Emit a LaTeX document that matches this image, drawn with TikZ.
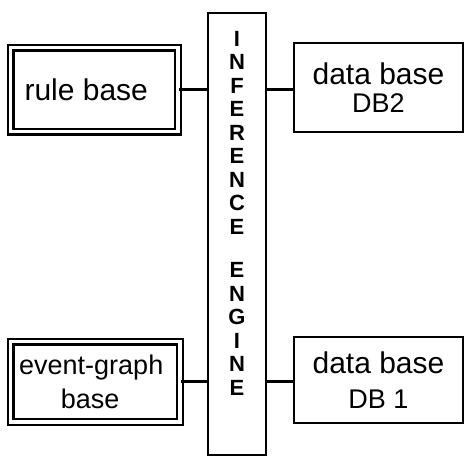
\documentclass[tikz,border=0pt]{standalone}
\usepackage{fontspec}
\setmainfont{Liberation Sans}
\begin{document}
\begin{tikzpicture}[x=1pt,y=-1pt,
  box/.style={draw,line width=2.6pt,rectangle,inner sep=0pt},
  dbox/.style={draw,line width=2.2pt,double,double distance=3.6pt,rectangle,inner sep=0pt},
  conn/.style={line width=2.6pt},
  big/.style={font=\fontsize{30}{35}\selectfont},
  mid/.style={font=\fontsize{27}{35}\selectfont}]
\useasboundingbox (0,0) rectangle (464,459);
% inference engine
\node[box,minimum width=58pt,minimum height=442pt] (ie) at (237,234) {};
\node[inner sep=0pt,anchor=north,align=center,font=\bfseries\fontsize{22}{23.5}\selectfont] (ietext) at (237,31)
  {I\\N\\F\\E\\R\\E\\N\\C\\E\\[20pt]E\\N\\G\\I\\N\\E};
% rule base
\node[dbox,minimum width=167.5pt,minimum height=84pt,big] (rb) at (94.25,89.5) {\hspace*{-16pt}rule base};
% event graph base
\node[dbox,minimum width=169.5pt,minimum height=80.5pt,align=center,mid] (eg) at (95.25,381.75) {\hspace*{-8pt}event-graph\\[-1pt]\hspace*{-10pt}base};
% data bases
\node[box,minimum width=169pt,minimum height=89pt,align=center,font=\fontsize{30}{28}\selectfont] (db2) at (378.5,87.5) {data base\\{\fontsize{27}{28}\selectfont DB2}};
\node[box,minimum width=169pt,minimum height=86pt,align=center,font=\fontsize{30}{35}\selectfont] (db1) at (378.5,380) {data base\\{\fontsize{27}{35}\selectfont DB 1}};
% connectors
\draw[conn] (rb.east) -- (rb.east -| ie.west);
\draw[conn] (eg.east) -- (eg.east -| ie.west);
\draw[conn] (ie.east |- rb.east) -- (db2.west |- rb.east);
\draw[conn] (ie.east |- eg.east) -- (db1.west |- eg.east);
\end{tikzpicture}
\end{document}
